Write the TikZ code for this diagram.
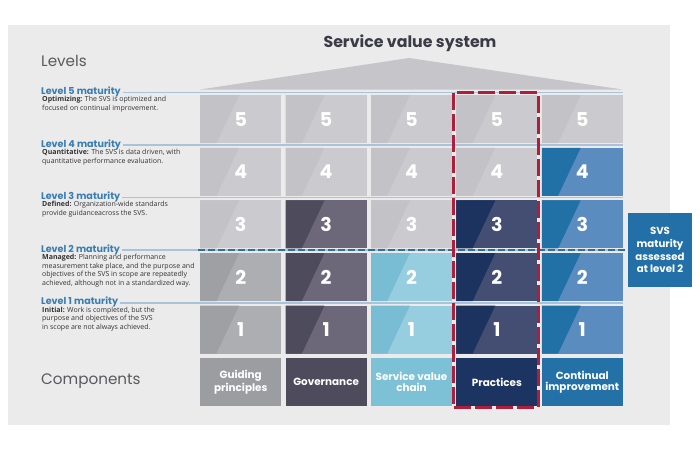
\documentclass[tikz,border=0pt]{standalone}
\usepackage{fontspec}
\setmainfont{Open Sans}
\newfontfamily\pop{Poppins}
\usetikzlibrary{calc}
\definecolor{bggrey}{HTML}{EBEBEB}
\definecolor{roofc}{HTML}{C6C6CA}
\definecolor{lgL}{HTML}{C3C3C7}
\definecolor{lgR}{HTML}{CBCBCF}
\definecolor{mgL}{HTML}{9EA0A3}
\definecolor{mgR}{HTML}{ADAEB2}
\definecolor{dpL}{HTML}{4E4C5C}
\definecolor{dpR}{HTML}{6D6879}
\definecolor{lbL}{HTML}{78BDD3}
\definecolor{lbR}{HTML}{96CEDF}
\definecolor{nvL}{HTML}{1C3360}
\definecolor{nvR}{HTML}{434E72}
\definecolor{blL}{HTML}{2170A6}
\definecolor{blR}{HTML}{5A8CBF}
\definecolor{compA}{HTML}{9B9DA1}
\definecolor{compB}{HTML}{4E4B5D}
\definecolor{compC}{HTML}{7DC1D7}
\definecolor{compP}{HTML}{1B3461}
\definecolor{compI}{HTML}{2371A6}
\definecolor{lvblue}{HTML}{3A7DB2}
\definecolor{lvline}{HTML}{A9C4DA}
\definecolor{dashblue}{HTML}{2F6E9E}
\definecolor{redsel}{HTML}{B01E3C}
\definecolor{svsbox}{HTML}{2370A8}
\definecolor{titlec}{HTML}{3B3B48}
\definecolor{headc}{HTML}{5A5A5E}
\definecolor{desc}{HTML}{333333}
\tikzset{
  cellbox/.style 2 args={anchor=north west, minimum width=81pt, minimum height=48pt,
    inner sep=0pt, fill=#2, text=white, font=\pop\bfseries\fontsize{19}{19}\selectfont,
    path picture={\fill[#1] (path picture bounding box.south west)
      -- ($(path picture bounding box.south west)!0.2!(path picture bounding box.south east)$)
      -- ($(path picture bounding box.north west)!0.48!(path picture bounding box.north east)$)
      -- (path picture bounding box.north west) -- cycle;}},
  lg/.style={cellbox={lgL}{lgR}},
  mg/.style={cellbox={mgL}{mgR}},
  dp/.style={cellbox={dpL}{dpR}},
  lb/.style={cellbox={lbL}{lbR}},
  nv/.style={cellbox={nvL}{nvR}},
  bl/.style={cellbox={blL}{blR}},
  comp/.style={anchor=north west, minimum width=81pt, minimum height=48pt, inner sep=0pt,
    fill=#1, text=white, align=center, font=\pop\bfseries\fontsize{10.4}{11}\selectfont},
  lvlab/.style={anchor=base west, inner sep=0pt, text=lvblue, font=\pop\bfseries\fontsize{9.6}{10}\selectfont},
  lvdesc/.style={anchor=north west, inner sep=0pt, text=desc, align=left, font=\fontsize{7}{8.7}\selectfont},
  lvl/.style={draw=lvline, line width=1.6pt},
  heading/.style={anchor=west, inner sep=0pt, text=headc, font=\pop\fontsize{15.2}{17}\selectfont},
}
\begin{document}
\begin{tikzpicture}[x=1pt,y=-1pt]
\useasboundingbox (0,0) rectangle (700,450);
\fill[white] (0,0) rectangle (700,450);
\fill[bggrey] (8,25) rectangle (670,425);
% title and roof
\node[text=titlec, font=\pop\bfseries\fontsize{15.8}{17}\selectfont] (title) at (410,43) {Service value system};
\fill[roofc] (200,89.5) -- (409,58) -- (622.6,89.5) -- cycle;
% headings
\node[heading] (levels) at (41,61) {Levels};
\node[heading] (components) at (41,381) {Components};
% level labels and lines
\coordinate (e5) at (622.6,92.4);
\coordinate (e4) at (622.6,145);
\coordinate (e3) at (622.6,197.6);
\coordinate (e2) at (622.6,250.2);
\coordinate (e1) at (622.6,302.8);
\node[lvlab] (l5) at (41,94.4) {Level 5 maturity};
\node[lvlab] (l4) at (41,147) {Level 4 maturity};
\node[lvlab] (l3) at (41,199.6) {Level 3 maturity};
\node[lvlab] (l2) at (41,252.2) {Level 2 maturity};
\node[lvlab] (l1) at (41,304.8) {Level 1 maturity};
\draw[lvl] ([xshift=2pt]l5.east |- e5) -- (e5);
\draw[lvl] ([xshift=2pt]l4.east |- e4) -- (e4);
\draw[lvl] ([xshift=2pt]l3.east |- e3) -- (e3);
\draw[lvl] ([xshift=2pt]l2.east |- e2) -- (e2);
\draw[lvl] ([xshift=2pt]l1.east |- e1) -- (e1);
\node[lvdesc] (d5) at (42,96.2) {\textbf{Optimizing:} The SVS is optimized and\\focused on continual improvement.};
\node[lvdesc] (d4) at (42,148.8) {\textbf{Quantitative:} The SVS is data driven, with\\quantitative performance evaluation.};
\node[lvdesc] (d3) at (42,201.4) {\textbf{Defined:} Organization-wide standards\\provide guidanceacross the SVS.};
\node[lvdesc] (d2) at (42,254) {\textbf{Managed:} Planning and performance\\measurement take place, and the purpose and\\objectives of the SVS in scope are repeatedly\\achieved, although not in a standardized way.};
\node[lvdesc] (d1) at (42,306.6) {\textbf{Initial:} Work is completed, but the\\purpose and objectives of the SVS\\in scope are not always achieved.};
% column 1 guiding principles
\node[lg] (a5) at (200,95) {5};
\node[lg] (a4) at (200,147.6) {4};
\node[lg] (a3) at (200,200.2) {3};
\node[mg] (a2) at (200,252.8) {2};
\node[mg] (a1) at (200,305.4) {1};
\node[comp=compA] (ac) at (200,358) {Guiding\\principles};
% column 2 governance
\node[lg] (b5) at (285.4,95) {5};
\node[lg] (b4) at (285.4,147.6) {4};
\node[dp] (b3) at (285.4,200.2) {3};
\node[dp] (b2) at (285.4,252.8) {2};
\node[dp] (b1) at (285.4,305.4) {1};
\node[comp=compB] (bc) at (285.4,358) {Governance};
% column 3 service value chain
\node[lg] (c5) at (370.8,95) {5};
\node[lg] (c4) at (370.8,147.6) {4};
\node[lg] (c3) at (370.8,200.2) {3};
\node[lb] (c2) at (370.8,252.8) {2};
\node[lb] (c1) at (370.8,305.4) {1};
\node[comp=compC] (cc) at (370.8,358) {Service value\\chain};
% column 4 practices
\node[lg] (p5) at (456.2,95) {5};
\node[lg] (p4) at (456.2,147.6) {4};
\node[nv] (p3) at (456.2,200.2) {3};
\node[nv] (p2) at (456.2,252.8) {2};
\node[nv] (p1) at (456.2,305.4) {1};
\node[comp=compP] (pc) at (456.2,358) {Practices};
% column 5 continual improvement
\node[lg] (i5) at (541.6,95) {5};
\node[bl] (i4) at (541.6,147.6) {4};
\node[bl] (i3) at (541.6,200.2) {3};
\node[bl] (i2) at (541.6,252.8) {2};
\node[bl] (i1) at (541.6,305.4) {1};
\node[comp=compI] (ic) at (541.6,358) {Continual\\improvement};
% SVS box
\node[fill=svsbox, text=white, minimum width=64pt, minimum height=74pt, inner sep=0pt, align=center,
  font=\pop\bfseries\fontsize{10.2}{12.8}\selectfont] (svs) at (660,250.2) {SVS\\maturity\\assessed\\at level 2};
\coordinate (d2s) at (198,250.2);
\draw[dashblue, line width=2pt, dash pattern=on 6.5pt off 3.5pt] (d2s) -- (svs.west);
% selection
\draw[redsel, line width=3pt, dash pattern=on 17pt off 4pt] (453.8,92.8) rectangle (538.2,407.2);
\end{tikzpicture}
\end{document}
